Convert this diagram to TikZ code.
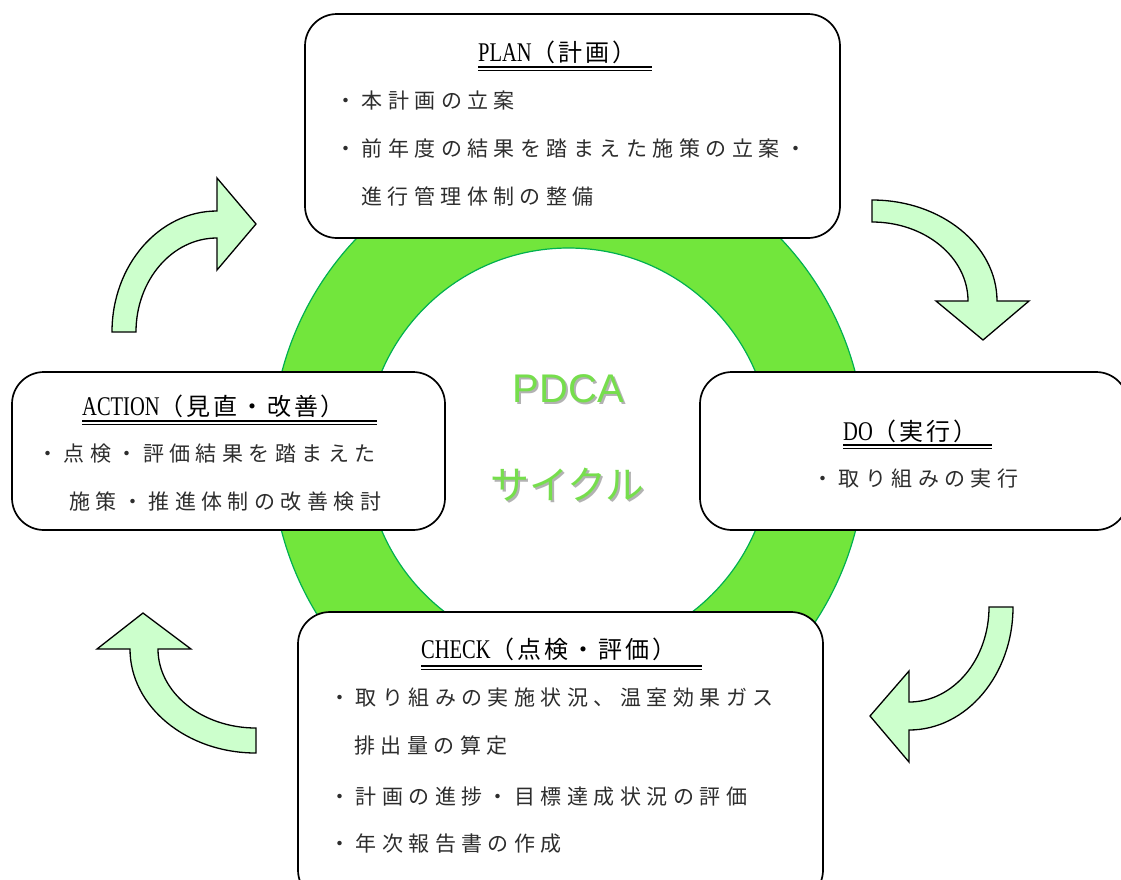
\documentclass[tikz,border=0pt]{standalone}
\usepackage{fontspec}
\setmainfont{Liberation Serif}
\newfontfamily\jpbody[LetterSpace=26]{Noto Sans CJK JP}
\newfontfamily\jptitle[LetterSpace=12]{Noto Sans CJK JP}
\newfontfamily\latt[FakeStretch=0.76]{Liberation Serif}
\newfontfamily\pdcafont{Liberation Sans}
\newfontfamily\jpbig{Noto Sans CJK JP}
\definecolor{ringfill}{RGB}{114,230,60}
\definecolor{ringline}{RGB}{0,176,80}
\definecolor{arrowfill}{RGB}{204,255,204}
\definecolor{pdcagreen}{RGB}{118,222,76}
\definecolor{bodytext}{RGB}{45,45,45}
\newcommand{\tlat}[1]{{\latt\fontsize{27}{28}\selectfont #1}}
\tikzset{
  box/.style={draw=black, line width=1.7pt, fill=white, rounded corners=32pt, inner sep=0pt},
  bodyline/.style={anchor=west, inner sep=0pt, text=bodytext, font=\jpbody\fontsize{21}{24}\selectfont},
  titleline/.style={anchor=west, inner sep=0pt, text=black, font=\fontsize{24}{28}\selectfont},
  ulthick/.style={line width=1.6pt},
  ulthin/.style={line width=0.9pt},
  curvearrow/.style={draw=black, line width=1.3pt, fill=arrowfill, line join=miter},
  bigtext/.style={inner sep=0pt, text=pdcagreen},
  bigshadow/.style={inner sep=0pt, text=black!30},
}
\begin{document}
\begin{tikzpicture}[x=1pt,y=-1pt]
\useasboundingbox (0,0) rectangle (1121,879);
\clip (0,0) rectangle (1121,879);
% ring
\path[fill=ringfill, draw=ringline, line width=1.2pt, even odd rule]
  (568.5,452) ellipse [x radius=297, y radius=305]
  (568.5,451) circle [radius=203];
% boxes
\node[box, minimum width=535pt, minimum height=224pt] (plan) at (572.5,126) {};
\node[box, minimum width=433pt, minimum height=158pt] (action) at (228.5,451) {};
\node[box, minimum width=428pt, minimum height=158pt] (do) at (914,451) {};
\node[box, minimum width=525pt, minimum height=290pt] (check) at (560.5,757) {};
% curved arrows
\path[curvearrow] (112,332) arc[start angle=180, end angle=270, x radius=105, y radius=121]
  -- (217,178) -- (256,224) -- (217,270) -- (217,238)
  arc[start angle=270, end angle=180, x radius=81, y radius=94] -- cycle;
\path[curvearrow] (872,200) arc[start angle=-90, end angle=0, x radius=125, y radius=101]
  -- (1029,301) -- (983,340) -- (936,301) -- (968,301)
  arc[start angle=0, end angle=-90, x radius=96, y radius=79] -- cycle;
\path[curvearrow] (1013,607) arc[start angle=0, end angle=90, x radius=104, y radius=123]
  -- (909,762) -- (870,716) -- (909,671) -- (909,702)
  arc[start angle=90, end angle=0, x radius=80, y radius=95] -- cycle;
\path[curvearrow] (256,753) arc[start angle=90, end angle=180, x radius=126, y radius=104]
  -- (97,649) -- (143,613) -- (191,649) -- (158,649)
  arc[start angle=180, end angle=90, x radius=98, y radius=79] -- cycle;
% center text
\node[bigshadow, font=\pdcafont\fontsize{40}{44}\selectfont] (pdcash) at (570.5,391) {PDCA};
\node[bigtext, font=\pdcafont\fontsize{40}{44}\selectfont] (pdca) at (568.5,389) {PDCA};
\node[bigshadow, font=\jpbig\fontsize{39}{44}\selectfont] (cyclesh) at (569.5,487) {サイクル};
\node[bigtext, font=\jpbig\fontsize{39}{44}\selectfont] (cycle) at (567.5,485) {サイクル};
% PLAN
\node[titleline] (plant) at (478,52) {\tlat{PLAN}{\jptitle （計画）}};
\draw[ulthick] (478,67) -- (652,67);
\draw[ulthin] (478,70.5) -- (652,70.5);
\node[bodyline] (plan1) at (335,101) {・本計画の立案};
\node[bodyline] (plan2) at (335,148) {・前年度の結果を踏まえた施策の立案・};
\node[bodyline] (plan3) at (361,196) {進行管理体制の整備};
% ACTION
\node[titleline] (actiont) at (82,406) {\tlat{ACTION}{\jptitle （見直・改善）}};
\draw[ulthick] (82,421) -- (377,421);
\draw[ulthin] (82,424.5) -- (377,424.5);
\node[bodyline] (action1) at (37,454) {・点検・評価結果を踏まえた};
\node[bodyline] (action2) at (69,502) {施策・推進体制の改善検討};
% DO
\node[titleline] (dot) at (843,431) {\tlat{DO}{\jptitle （実行）}};
\draw[ulthick] (843,445) -- (992,445);
\draw[ulthin] (843,448.5) -- (992,448.5);
\node[bodyline] (do1) at (812,479) {・取り組みの実行};
% CHECK
\node[titleline] (checkt) at (421,649) {\tlat{CHECK}{\jptitle （点検・評価）}};
\draw[ulthick] (421,666) -- (702,666);
\draw[ulthin] (421,669.5) -- (702,669.5);
\node[bodyline] (check1) at (329,698) {・取り組みの実施状況、温室効果ガス};
\node[bodyline] (check2) at (354,746) {排出量の算定};
\node[bodyline] (check3) at (329,797) {・計画の進捗・目標達成状況の評価};
\node[bodyline] (check4) at (329,844) {・年次報告書の作成};
\end{tikzpicture}
\end{document}
